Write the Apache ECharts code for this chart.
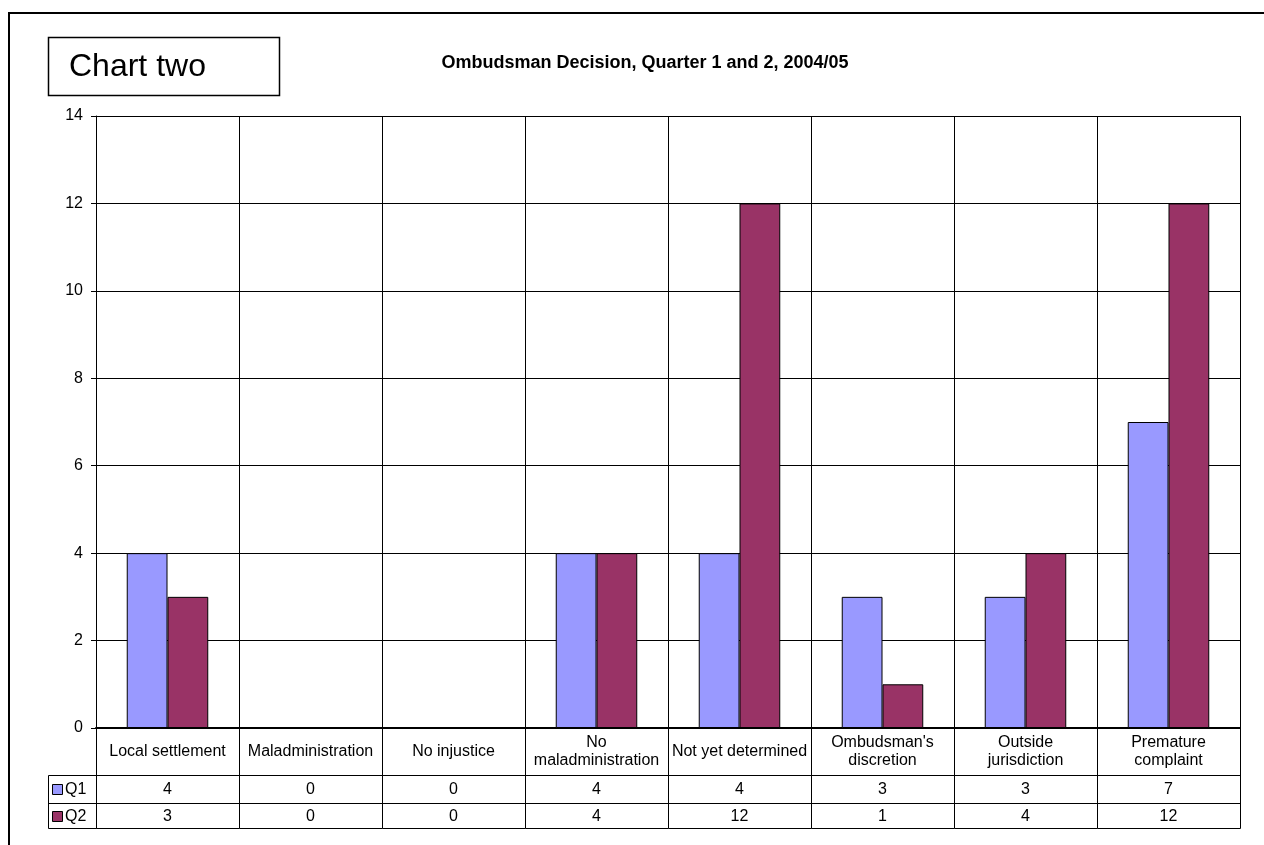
<!DOCTYPE html>
<html>
<head>
<meta charset="utf-8">
<title>Ombudsman Decision, Quarter 1 and 2, 2004/05</title>
<script src="https://cdn.jsdelivr.net/npm/echarts@6/dist/echarts.min.js"></script>
<style>
  html, body { margin: 0; padding: 0; background: #fff; }
  #chart { width: 1264px; height: 845px; }
</style>
</head>
<body>
<div id="chart"></div>
<script>
// Decision categories (line breaks as wrapped in the table header cells)
const categories = [
  'Local settlement',
  'Maladministration',
  'No injustice',
  'No\nmaladministration',
  'Not yet determined',
  "Ombudsman's\ndiscretion",
  'Outside\njurisdiction',
  'Premature\ncomplaint'
];
const seriesNames = ['Q1', 'Q2'];
const q1Values = [4, 0, 0, 4, 4, 3, 3, 7];
const q2Values = [3, 0, 0, 4, 12, 1, 4, 12];
const seriesColors = ['#9999FF', '#993366'];
const yTicks = { min: 0, max: 14, interval: 2 };

const FONT = '"Liberation Sans", Arial, sans-serif';
const TEXT_SIZE = 16;
const GRID = { left: 96, top: 116, width: 1144, height: 612 };
// data table row boundaries, measured down from the x axis
const ROW_LABEL = 47, ROW_Q1 = 75, ROW_Q2 = 100;
const LEGEND_X = 48;

const chart = echarts.init(document.getElementById('chart'), null, { renderer: 'canvas' });

const crisp = v => Math.round(v) + 0.5;
const lineStyle = { stroke: '#000', lineWidth: 1 };

// draws the data table cells (values of both quarters) under each category
function renderTableCell(params, api) {
  const i = api.value(0);
  const p = api.coord([i, 0]);
  const w = api.size([1, 0])[0];
  const xL = crisp(p[0] - w / 2), xR = crisp(p[0] + w / 2);
  const y0 = Math.round(p[1]);
  const children = [];
  const vline = x => ({ type: 'line', shape: { x1: x, y1: y0, x2: x, y2: y0 + ROW_Q2 + 0.5 }, style: lineStyle, silent: true });
  const hline = y => ({ type: 'line', shape: { x1: xL, y1: crisp(y), x2: xR, y2: crisp(y) }, style: lineStyle, silent: true });
  children.push(vline(xR));
  if (i === 0) children.push(vline(xL));
  children.push(hline(y0 + ROW_LABEL), hline(y0 + ROW_Q1), hline(y0 + ROW_Q2));
  const vals = [api.value(1), api.value(2)];
  const centers = [y0 + (ROW_LABEL + ROW_Q1) / 2, y0 + (ROW_Q1 + ROW_Q2) / 2];
  vals.forEach((v, k) => {
    children.push({
      type: 'text', silent: true,
      style: { x: p[0], y: centers[k] + 1, text: String(v), fill: '#000', font: TEXT_SIZE + 'px ' + FONT, align: 'center', verticalAlign: 'middle' }
    });
  });
  return { type: 'group', children };
}

const tableBase = GRID.top + GRID.height;
const legendGraphics = [];
seriesNames.forEach((name, k) => {
  const top = tableBase + (k === 0 ? ROW_LABEL : ROW_Q1);
  const bottom = tableBase + (k === 0 ? ROW_Q1 : ROW_Q2);
  const cy = (top + bottom) / 2;
  legendGraphics.push({
    type: 'rect', silent: true,
    shape: { x: 52.5, y: Math.round(cy - 5) + 0.5, width: 10, height: 10 },
    style: { fill: seriesColors[k], stroke: '#000', lineWidth: 1 }
  });
  legendGraphics.push({
    type: 'text', silent: true,
    style: { x: 65, y: cy + 1, text: name, fill: '#000', font: TEXT_SIZE + 'px ' + FONT, verticalAlign: 'middle' }
  });
});

const option = {
  backgroundColor: '#fff',
  animation: false,
  title: {
    text: 'Ombudsman Decision, Quarter 1 and 2, 2004/05',
    left: 640, top: 49, textAlign: 'center',
    textStyle: { fontFamily: FONT, fontSize: 18, fontWeight: 'bold', color: '#000' }
  },
  grid: { left: GRID.left, top: GRID.top, width: GRID.width, height: GRID.height, containLabel: false },
  xAxis: {
    type: 'category',
    data: categories,
    axisLine: { show: true, lineStyle: { color: '#000', width: 2 } },
    axisTick: { show: false },
    splitLine: { show: true, interval: 0, lineStyle: { color: '#000', width: 1 } },
    axisLabel: {
      interval: 0, margin: 24, verticalAlign: 'middle',
      fontFamily: FONT, fontSize: TEXT_SIZE, lineHeight: 18, color: '#000'
    }
  },
  yAxis: {
    type: 'value',
    min: yTicks.min, max: yTicks.max, interval: yTicks.interval,
    axisLine: { show: true, lineStyle: { color: '#000', width: 1 } },
    axisTick: { show: true, length: 5, lineStyle: { color: '#000' } },
    splitLine: { show: true, lineStyle: { color: '#000', width: 1 } },
    axisLabel: { margin: 13, fontFamily: FONT, fontSize: TEXT_SIZE, color: '#000' }
  },
  series: [
    {
      name: seriesNames[0], type: 'bar', data: q1Values,
      barGap: '0%', barCategoryGap: '43%',
      itemStyle: { color: seriesColors[0], borderColor: '#000', borderWidth: 1 }
    },
    {
      name: seriesNames[1], type: 'bar', data: q2Values,
      barGap: '0%', barCategoryGap: '43%',
      itemStyle: { color: seriesColors[1], borderColor: '#000', borderWidth: 1 }
    },
    {
      name: 'table', type: 'custom', clip: false, silent: true,
      renderItem: renderTableCell,
      encode: { x: 0, y: -1 },
      data: categories.map((c, i) => [i, q1Values[i], q2Values[i]]),
      z: 5
    }
  ],
  graphic: [
    // outer chart frame
    { type: 'rect', silent: true, shape: { x: 9, y: 13, width: 1300, height: 900 }, style: { fill: null, stroke: '#000', lineWidth: 2 } },
    // "Chart two" caption box
    { type: 'rect', silent: true, shape: { x: 48.5, y: 37.5, width: 231, height: 58 }, style: { fill: '#fff', stroke: '#000', lineWidth: 1.5 } },
    { type: 'text', silent: true, style: { x: 69, y: 67, text: 'Chart two', fill: '#000', font: '32px ' + FONT, verticalAlign: 'middle' } },
    // legend column of the data table
    { type: 'rect', silent: true, shape: { x: LEGEND_X + 0.5, y: tableBase + ROW_LABEL + 0.5, width: GRID.left - LEGEND_X, height: ROW_Q2 - ROW_LABEL }, style: { fill: null, stroke: '#000', lineWidth: 1 } },
    { type: 'line', silent: true, shape: { x1: LEGEND_X, y1: tableBase + ROW_Q1 + 0.5, x2: GRID.left, y2: tableBase + ROW_Q1 + 0.5 }, style: { stroke: '#000', lineWidth: 1 } }
  ].concat(legendGraphics)
};

chart.setOption(option);
</script>
</body>
</html>
